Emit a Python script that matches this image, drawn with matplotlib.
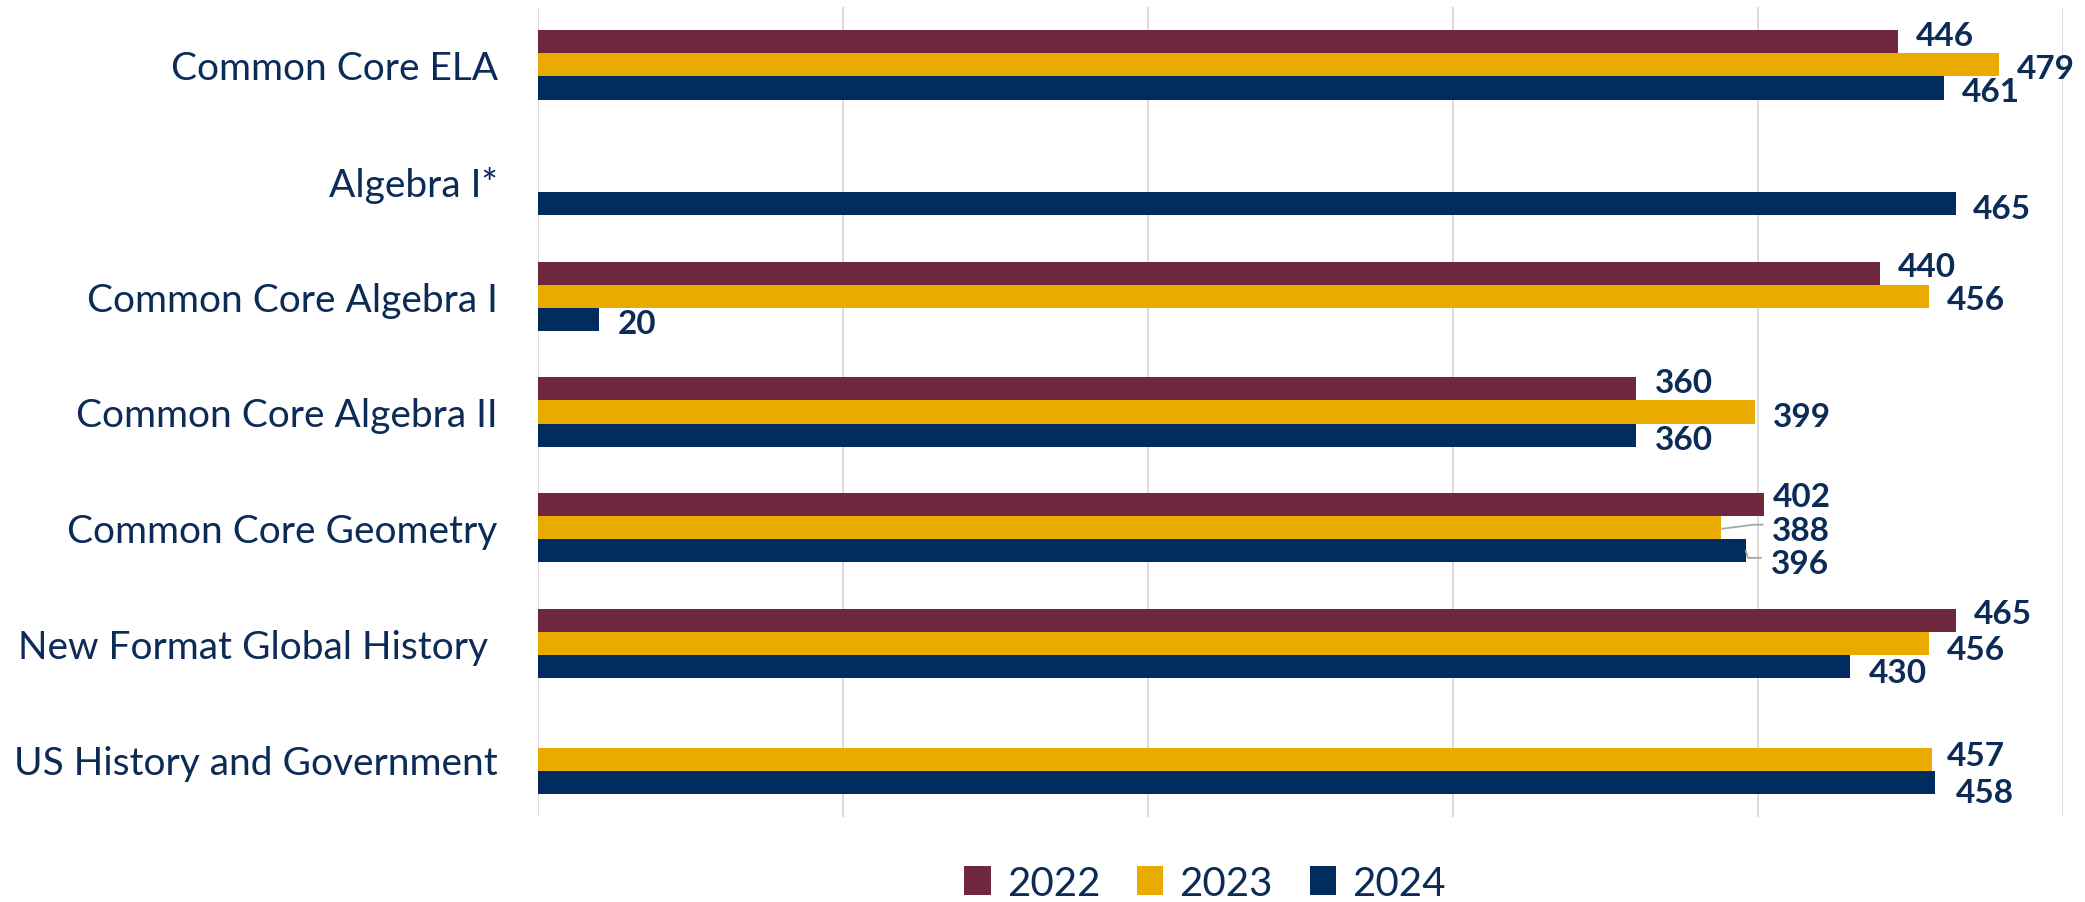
import matplotlib
matplotlib.use("Agg")
import matplotlib.pyplot as plt
import matplotlib.transforms as mtransforms
from matplotlib.lines import Line2D
from matplotlib.patches import Patch

# ---------------- data ----------------
categories = ["Common Core ELA", "Algebra I*", "Common Core Algebra I",
              "Common Core Algebra II", "Common Core Geometry",
              "New Format Global History ", "US History and Government"]
years = ["2022", "2023", "2024"]
v2022 = [446, None, 440, 360, 402, 465, None]
v2023 = [479, None, 456, 399, 388, 456, 457]
v2024 = [461, 465, 20, 360, 396, 430, 458]
series = [v2022, v2023, v2024]

# label nudges (pixels): dx from bar end, dy of label centre below bar centre
dx_lab = [[18, 0, 18, 19, 9, 18, 0],
          [18, 0, 18, 18, 51, 18, 15],
          [18, 17, 19, 19, 25, 19, 21]]
dy_lab = [[-8.5, 0, -9, -8.5, -11, -9.5, 0],
          [1, 0, 1, 2, 0, 4, -6.5],
          [1.5, 2, 2, 1.5, 10, 3, 8]]

colors = ["#6F283E", "#E9AB00", "#002D5D"]
navy = "#0C2C57"
grid_c = "#D9D9D9"
FONT = "Lato"

# ---------------- figure ----------------
fig = plt.figure(figsize=(20.85, 9.03), dpi=100)
W, H = 2085, 903
ax = fig.add_axes([538 / W, 1 - 818 / H, (2063 - 538) / W, (818 - 8) / H])

bar_h = 0.2
for j, vals in enumerate(series):
    for i, v in enumerate(vals):
        if v is None:
            continue
        y = i + (j - 1) * bar_h
        ax.barh(y, v, height=bar_h, color=colors[j], edgecolor="none", zorder=2)
        ax.annotate(str(v), xy=(v, y),
                    xytext=(dx_lab[j][i], -(dy_lab[j][i] + 12)),
                    textcoords="offset pixels", ha="left", va="baseline",
                    fontsize=24, fontweight="bold", color=navy,
                    family=FONT, annotation_clip=False, zorder=4)

# leader lines for Geometry 2023 and 2024 labels (pixel offsets from bar end)
leaders = {(1, 4): ([1, 32, 41], [-1, 3, 3]),
           (2, 4): ([0, 2, 15], [0, -7, -7])}
for (j, i), (xs, ys) in leaders.items():
    v = series[j][i]
    y = i + (j - 1) * bar_h
    trans = mtransforms.Affine2D() + mtransforms.ScaledTranslation(v, y, ax.transData)
    ln = Line2D(xs, ys, transform=trans, color="#A6A6A6", lw=1.3,
                clip_on=False, zorder=3)
    ax.add_artist(ln)

ax.set_xlim(0, 500)
ax.set_ylim(6.5, -0.5)
ax.set_xticks([0, 100, 200, 300, 400, 500])
ax.xaxis.grid(True, color=grid_c, lw=1.3, zorder=0)
ax.set_axisbelow(True)
ax.tick_params(axis="x", length=0, labelbottom=False)
ax.set_yticks(range(len(categories)))
ax.set_yticklabels(categories, fontsize=28, color=navy, family=FONT)
ax.tick_params(axis="y", length=0, pad=29)
for s in ax.spines.values():
    s.set_visible(False)

handles = [Patch(facecolor=c, edgecolor="none") for c in colors]
fig.legend(handles, years, loc="center", bbox_to_anchor=(0.578, 0.021),
           ncol=3, frameon=False, prop={"family": FONT, "size": 29},
           labelcolor=navy, handlelength=0.65, handleheight=0.7,
           handletextpad=0.4, columnspacing=0.92, borderaxespad=0,
           borderpad=0)

fig.savefig("out.png", dpi=100, facecolor="white")
